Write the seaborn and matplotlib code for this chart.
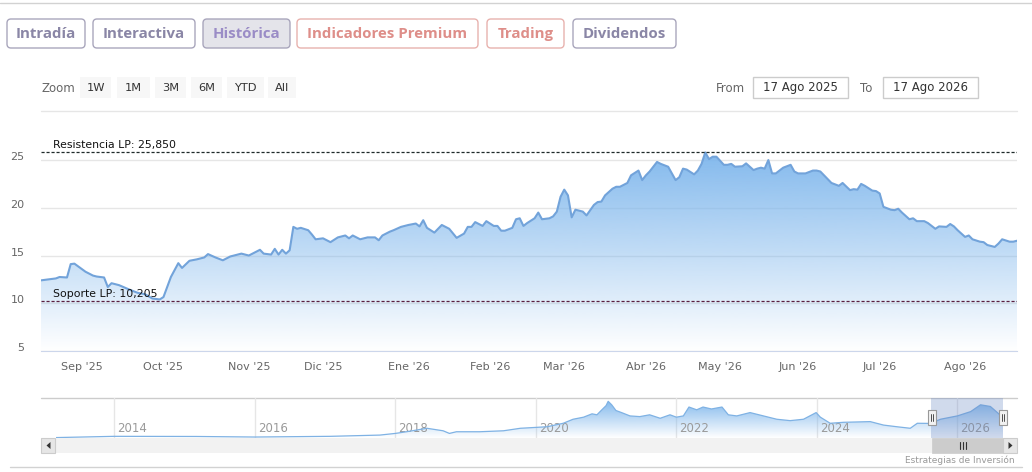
import numpy as np
import pandas as pd
import matplotlib
matplotlib.use('Agg')
import matplotlib.pyplot as plt
import seaborn as sns
from matplotlib.patches import FancyBboxPatch, Rectangle, Polygon
from matplotlib.transforms import ScaledTranslation, blended_transform_factory

sns.set_style('white')
plt.rcParams['font.family'] = ['DejaVu Sans']

# --- datos: sesion bursatil (desde el 15 ago 2025) y cotizacion ---
sesion = [0, 4, 5, 7, 8, 9, 12, 14, 15, 17,
          18, 19, 21, 24, 26, 28, 30, 32, 33, 35,
          37, 38, 40, 42, 44, 45, 47, 49, 51, 54,
          56, 59, 60, 62, 63, 64, 65, 66, 67, 68,
          69, 70, 72, 73, 74, 76, 78, 80, 82, 83,
          84, 86, 88, 90, 91, 92, 94, 95, 97, 99,
          101, 102, 103, 104, 106, 108, 110, 112, 114, 115,
          116, 117, 119, 120, 122, 123, 124, 125, 127, 128,
          129, 130, 131, 133, 134, 135, 137, 138, 139, 140,
          141, 142, 143, 144, 146, 147, 149, 150, 151, 152,
          154, 155, 156, 158, 159, 161, 162, 163, 164, 166,
          167, 169, 170, 171, 172, 173, 174, 176, 177, 178,
          179, 180, 181, 182, 184, 185, 186, 187, 189, 190,
          192, 193, 194, 195, 196, 197, 198, 200, 202, 203,
          204, 206, 208, 209, 210, 212, 213, 215, 216, 218,
          219, 220, 221, 222, 224, 225, 226, 227, 229, 230,
          231, 232, 234, 235, 236, 238, 239, 240, 241, 242,
          244, 245, 246, 247, 249, 250, 251, 253, 254, 255,
          257, 258, 259, 261, 262, 263]
precio = [12.4, 12.6, 12.75, 12.7, 14.1, 14.15, 13.3, 12.9, 12.8, 12.7,
          11.7, 12.1, 11.9, 11.4, 11.1, 10.95, 10.5, 10.4, 10.65, 12.75,
          14.2, 13.7, 14.45, 14.6, 14.8, 15.15, 14.8, 14.5, 14.9, 15.2,
          15.0, 15.6, 15.2, 15.1, 15.7, 15.1, 15.6, 15.2, 15.55, 18.0,
          17.8, 17.9, 17.65, 17.2, 16.7, 16.8, 16.4, 16.9, 17.1, 16.8,
          17.1, 16.7, 16.9, 16.9, 16.6, 17.1, 17.5, 17.65, 18.0, 18.2,
          18.35, 18.05, 18.7, 17.9, 17.4, 18.2, 17.8, 16.85, 17.3, 18.0,
          18.0, 18.5, 18.1, 18.6, 18.1, 18.1, 17.6, 17.6, 17.9, 18.8,
          18.9, 18.1, 18.4, 18.9, 19.5, 18.8, 18.9, 19.1, 19.6, 21.15,
          21.9, 21.3, 19.0, 19.8, 19.6, 19.2, 20.3, 20.6, 20.65, 21.3,
          22.0, 22.2, 22.2, 22.6, 23.4, 23.9, 22.9, 23.4, 23.8, 24.8,
          24.6, 24.3, 23.6, 22.9, 23.2, 24.1, 24.0, 23.5, 23.9, 24.6,
          25.8, 25.1, 25.35, 25.35, 24.5, 24.5, 24.6, 24.3, 24.35, 24.65,
          23.95, 24.1, 24.2, 24.1, 25.0, 23.6, 23.6, 24.2, 24.5, 23.8,
          23.6, 23.6, 23.9, 23.9, 23.8, 23.0, 22.6, 22.3, 22.6, 21.85,
          21.95, 21.9, 22.5, 22.3, 21.8, 21.75, 21.5, 20.1, 19.8, 19.75,
          19.9, 19.5, 18.8, 18.9, 18.6, 18.6, 18.4, 18.1, 17.8, 18.05,
          18.0, 18.3, 18.05, 17.65, 16.95, 17.1, 16.7, 16.45, 16.4, 16.1,
          15.9, 16.25, 16.7, 16.45, 16.45, 16.55]

INICIO = '2025-08-15'
FESTIVOS = ['2026-04-03', '2026-04-06']
meses = ["Sep '25", "Oct '25", "Nov '25", "Dic '25", "Ene '26", "Feb '26",
         "Mar '26", "Abr '26", "May '26", "Jun '26", "Jul '26", "Ago '26"]
inicio_meses = ['2025-09-01', '2025-10-01', '2025-11-01', '2025-12-01',
                '2026-01-01', '2026-02-01', '2026-03-01', '2026-04-01',
                '2026-05-01', '2026-06-01', '2026-07-01', '2026-08-01']
niveles_y = [5, 10, 15, 20, 25]

resistencia = 25.85
soporte = 10.205

# historico completo para el navegador
hist_anio = [2013.17, 2014.0, 2015.17, 2016.0, 2017.07, 2017.78, 2018.0, 2018.16, 2018.45, 2018.68,
             2018.77, 2018.87, 2019.2, 2019.54, 2019.78, 2019.92, 2020.16, 2020.39, 2020.53, 2020.68,
             2020.8, 2020.87, 2020.94, 2021.0, 2021.03, 2021.08, 2021.14, 2021.22, 2021.34, 2021.48,
             2021.62, 2021.77, 2021.91, 2022.0, 2022.1, 2022.18, 2022.29, 2022.38, 2022.5, 2022.65,
             2022.74, 2022.86, 2023.05, 2023.24, 2023.43, 2023.62, 2023.81, 2023.99, 2024.05, 2024.19,
             2024.38, 2024.76, 2024.95, 2025.14, 2025.33, 2025.43, 2025.62, 2025.76, 2026.0, 2026.19,
             2026.33, 2026.47, 2026.57, 2026.65]
hist_valor = [2.2, 3.1, 3.0, 2.6, 3.1, 4.0, 5.2, 6.4, 8.9, 7.1,
              5.2, 6.4, 6.4, 7.1, 8.9, 9.3, 10.0, 12.5, 15.4, 16.9,
              19.3, 18.6, 22.2, 25.2, 28.3, 25.8, 21.7, 20.2, 17.8, 17.3,
              18.6, 16.1, 18.6, 16.9, 17.8, 24.2, 22.2, 24.2, 22.8, 24.2,
              18.6, 17.8, 20.2, 17.8, 15.4, 14.4, 15.4, 20.2, 16.9, 12.5,
              13.2, 13.7, 11.2, 10.0, 8.9, 12.5, 12.4, 15.4, 17.8, 20.9,
              25.8, 24.6, 20.2, 16.5]
anios_nav = [2014, 2016, 2018, 2020, 2022, 2024, 2026]

botones = ['Intradía', 'Interactiva', 'Histórica', 'Indicadores Premium', 'Trading', 'Dividendos']
zoom_botones = ['1W', '1M', '3M', '6M', 'YTD', 'All']
desde, hasta = '17 Ago 2025', '17 Ago 2026'

df = pd.DataFrame({'sesion': sesion, 'precio': precio})
df['fecha'] = np.busday_offset(INICIO, df['sesion'], holidays=FESTIVOS)
df_hist = pd.DataFrame({'anio': hist_anio, 'valor': hist_valor})

W, H = 1032, 472
fig = plt.figure(figsize=(W / 100, H / 100), dpi=100)

# capa de interfaz en pixeles
ui = fig.add_axes([0, 0, 1, 1], zorder=0)
ui.set_xlim(0, W)
ui.set_ylim(H, 0)
ui.axis('off')

def caja(x0, x1, y0, y1, face, edge, r=3, lw=1):
    ui.add_patch(FancyBboxPatch((x0, y0), x1 - x0, y1 - y0,
                                boxstyle=f'round,pad=0,rounding_size={r}',
                                facecolor=face, edgecolor=edge, linewidth=lw))

ui.plot([0, W], [3, 3], color='#d2d2d2', lw=1)

pos_botones = [(7, 85), (93, 195), (203, 290), (297, 478), (487, 564), (573, 676)]
for txt, (x0, x1) in zip(botones, pos_botones):
    if txt in ('Indicadores Premium', 'Trading'):
        face, edge, col = 'white', '#e8b2ae', '#de8e89'
    elif txt == 'Histórica':
        face, edge, col = '#e4e4ea', '#a9a6bc', '#9a8cc6'
    else:
        face, edge, col = 'white', '#a9a6bc', '#8a86a6'
    caja(x0, x1, 19, 48, face, edge, r=4)
    ui.text((x0 + x1) / 2, 34, txt, ha='center', va='center', fontsize=10.8,
            fontweight='bold', color=col, family=['Open Sans', 'DejaVu Sans'])

ui.text(42, 88, 'Zoom', ha='left', va='center', fontsize=8.5, color='#666666')
pos_zoom = [(80, 111), (117, 150), (155, 186), (191, 222), (227, 264), (268, 296)]
for txt, (x0, x1) in zip(zoom_botones, pos_zoom):
    ui.add_patch(Rectangle((x0, 77), x1 - x0, 21, facecolor='#f7f7f7', edgecolor='none'))
    ui.text((x0 + x1) / 2, 88, txt, ha='center', va='center', fontsize=8.2, color='#333333')

ui.text(716, 88, 'From', ha='left', va='center', fontsize=8.5, color='#666666')
ui.text(860, 88, 'To', ha='left', va='center', fontsize=8.5, color='#666666')
for txt, (x0, x1) in zip([desde, hasta], [(753, 848), (883, 978)]):
    ui.add_patch(Rectangle((x0, 77), x1 - x0, 21, facecolor='white', edgecolor='#cccccc', lw=1))
    ui.text((x0 + x1) / 2, 88, txt, ha='center', va='center', fontsize=8.5, color='#333333')

ui.plot([41, 1017], [111, 111], color='#e6e6e6', lw=1)

# --- grafico principal ---
ax = fig.add_axes([41 / W, 1 - 351 / H, 976 / W, 211 / H], zorder=1)
ax.patch.set_alpha(0)
x_max = df['sesion'].max()
ax.set_xlim(0, x_max)
ax.set_ylim(5, 27.1)

area = ax.fill_between(df['sesion'], df['precio'], 5, facecolor='none', edgecolor='none')
grad = np.zeros((256, 1, 4))
grad[:, 0, :3] = np.array([124, 181, 236]) / 255
grad[:, 0, 3] = np.linspace(0.0, 1.0, 256)
im = ax.imshow(grad, extent=[0, x_max, 5, 27.1], origin='lower', aspect='auto', zorder=1)
im.set_clip_path(area.get_paths()[0], transform=ax.transData)

sns.lineplot(data=df, x='sesion', y='precio', ax=ax, color='#72a3da',
             linewidth=1.5, estimator=None, zorder=3)

ax.axhline(resistencia, color='#1f2a2a', lw=0.9, ls=(0, (2.5, 1.5)), zorder=4)
ax.axhline(soporte, color='#5a1f3f', lw=0.9, ls=(0, (2.5, 1.5)), zorder=4)
tr = blended_transform_factory(ax.transAxes, ax.transData)
ax.text(12 / 976, resistencia + 0.25, f'Resistencia LP: {resistencia:,.3f}'.replace('.', ','),
        transform=tr, fontsize=7.8, color='#111111', va='bottom', zorder=5)
ax.text(12 / 976, soporte + 0.25, f'Soporte LP: {soporte:,.3f}'.replace('.', ','),
        transform=tr, fontsize=7.8, color='#111111', va='bottom', zorder=5)

ax.set_yticks(niveles_y)
ax.set_yticklabels([str(v) for v in niveles_y])
ax.yaxis.grid(True, color='#e6e6e6', lw=1)
ax.xaxis.grid(False)
ax.set_axisbelow(True)
ax.tick_params(axis='y', length=0, pad=12, labelsize=8, labelcolor='#666666')
for lbl in ax.get_yticklabels():
    lbl.set_transform(lbl.get_transform() + ScaledTranslation(0, 4 / 100, fig.dpi_scale_trans))

ticks_mes = np.busday_count(INICIO, inicio_meses, holidays=FESTIVOS)
ax.set_xticks(ticks_mes)
ax.set_xticklabels(meses)
ax.tick_params(axis='x', length=6, width=1, color='#ccd6eb', pad=2,
               labelsize=8, labelcolor='#666666')
ax.set_xlabel('')
ax.set_ylabel('')
for s in ['top', 'right', 'left']:
    ax.spines[s].set_visible(False)
ax.spines['bottom'].set_color('#ccd6eb')

# --- navegador ---
nav = fig.add_axes([56 / W, 1 - 438 / H, 947 / W, 40 / H], zorder=1)
nav.patch.set_alpha(0)
nav.set_xlim(hist_anio[0], hist_anio[-1])
nav.set_ylim(1.9, 30.7)
for a in anios_nav:
    nav.axvline(a, color='#e6e6e6', lw=1, zorder=0)
    nav.text(a, 0.07, str(a), transform=blended_transform_factory(nav.transData, nav.transAxes)
             + ScaledTranslation(3 / 100, 0, fig.dpi_scale_trans),
             fontsize=8.5, color='#9a9a9a', ha='left', va='bottom', zorder=2)
area_n = nav.fill_between(df_hist['anio'], df_hist['valor'], 1.9, facecolor='none', edgecolor='none')
grad_n = grad.copy()
grad_n[:, 0, 3] = np.linspace(0.0, 1.0, 256)
im_n = nav.imshow(grad_n, extent=[hist_anio[0], hist_anio[-1], 1.9, 30.7],
                  origin='lower', aspect='auto', zorder=1)
im_n.set_clip_path(area_n.get_paths()[0], transform=nav.transData)
sns.lineplot(data=df_hist, x='anio', y='valor', ax=nav, color='#7fb2e4',
             linewidth=0.9, estimator=None, zorder=3)
sel0 = df['fecha'].iloc[0]
sel0 = sel0.year + (sel0.dayofyear - 1) / 365
nav.axvspan(sel0, hist_anio[-1], color=(102 / 255, 133 / 255, 194 / 255, 0.3), lw=0, zorder=4)
nav.set_xlabel('')
nav.set_ylabel('')
nav.set_xticks([])
nav.set_yticks([])
for s in nav.spines.values():
    s.set_visible(False)

ui.plot([41, 1017], [398, 398], color='#cccccc', lw=1)
# barra de desplazamiento
ui.add_patch(Rectangle((41, 438), 976, 15, facecolor='#f2f2f2', edgecolor='none'))
ui.add_patch(Rectangle((932, 438), 71, 15, facecolor='#cccccc', edgecolor='#cccccc', lw=0.5))
for gx in (960, 963, 966):
    ui.plot([gx, gx], [442, 449], color='#333333', lw=0.8)
for (x0, tri) in [(41, [(50.5, 442), (50.5, 449), (46.5, 445.5)]),
                  (1003, [(1008.5, 442), (1008.5, 449), (1012.5, 445.5)])]:
    ui.add_patch(Rectangle((x0, 438), 14, 15, facecolor='#e6e6e6', edgecolor='#cccccc', lw=0.8))
    ui.add_patch(Polygon(tri, closed=True, facecolor='#333333', edgecolor='none'))
# tiradores de la seleccion
ui2 = fig.add_axes([0, 0, 1, 1], zorder=2)
ui2.set_xlim(0, W)
ui2.set_ylim(H, 0)
ui2.axis('off')
for hx in (932, 1003):
    ui2.add_patch(Rectangle((hx - 4, 410), 8, 15, facecolor='#f2f2f2', edgecolor='#999999', lw=0.8))
    ui2.plot([hx - 1.2, hx - 1.2], [414, 421], color='#333333', lw=0.6)
    ui2.plot([hx + 1.2, hx + 1.2], [414, 421], color='#333333', lw=0.6)

ui.text(1015, 460, 'Estrategias de Inversión', ha='right', va='center', fontsize=6.5, color='#999999')
ui.plot([10, 1022], [467, 467], color='#d2d2d2', lw=1)

fig.savefig('out.png', dpi=100)
